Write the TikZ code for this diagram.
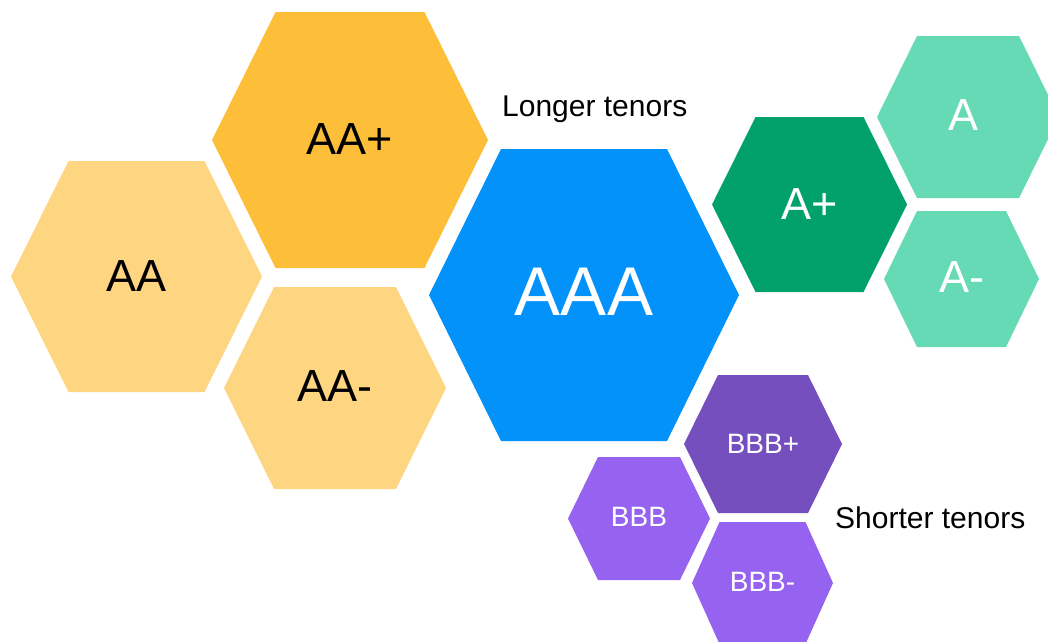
\documentclass[tikz,border=0pt]{standalone}
\usepackage{fontspec}
\setmainfont{Liberation Sans}
\definecolor{cAAp}{RGB}{253,190,58}
\definecolor{cAA}{RGB}{254,213,128}
\definecolor{cAAA}{RGB}{2,146,250}
\definecolor{cAp}{RGB}{2,161,107}
\definecolor{cA}{RGB}{102,217,181}
\definecolor{cBBBp}{RGB}{118,79,190}
\definecolor{cBBB}{RGB}{150,98,240}
% \hexa{colour}{cx}{cy}{half width}{half top edge}{half height}
\newcommand\hexa[6]{%
  \fill[#1] ({#2-#4},#3) -- ({#2-#5},{#3-#6}) -- ({#2+#5},{#3-#6}) --
    ({#2+#4},#3) -- ({#2+#5},{#3+#6}) -- ({#2-#5},{#3+#6}) -- cycle;}
\begin{document}
\begin{tikzpicture}[x=1pt,y=-1pt,
  lbl/.style={inner sep=0pt,anchor=center},
  big/.style={lbl,font=\fontsize{69}{69}\selectfont,text=white},
  mid/.style={lbl,font=\fontsize{45}{45}\selectfont},
  small/.style={lbl,font=\fontsize{28}{28}\selectfont,text=white},
  note/.style={inner sep=0pt,anchor=base west,font=\fontsize{30}{30}\selectfont}]
\useasboundingbox (0,0) rectangle (1048,641);
\clip (0,0) rectangle (1048,641);
\hexa{cAAp}{350}{140}{138}{74.5}{128}
\hexa{cAA}{136.5}{276.5}{125.5}{68}{115.5}
\hexa{cAA}{335}{388}{111}{61}{101}
\hexa{cAAA}{584}{295}{155}{83}{146}
\hexa{cAp}{809.5}{204.5}{97.5}{54}{87.5}
\hexa{cA}{968}{117}{91}{51}{81}
\hexa{cA}{961.5}{279}{77.5}{44.5}{68}
\hexa{cBBBp}{763}{444}{79}{45}{69}
\hexa{cBBB}{639}{518.5}{71}{41}{61.5}
\hexa{cBBB}{762.5}{583}{70.5}{43}{61}
\node[mid] (aap) at (350,139) {AA+};
\node[mid] (aa) at (136.5,276) {AA};
\node[mid] (aam) at (335,386) {AA-};
\node[big] (aaa) at (584,292) {AAA};
\node[mid,text=white] (ap) at (809.5,204) {A+};
\node[mid,text=white] (a) at (963,115) {A};
\node[mid,text=white] (am) at (961.5,277) {A-};
\node[small] (bbbp) at (763,444) {BBB+};
\node[small] (bbb) at (639,517) {BBB};
\node[small] (bbbm) at (762.5,582) {BBB-};
\node[note] (longer) at (502,116) {Longer tenors};
\node[note] (shorter) at (835,528) {Shorter tenors};
\end{tikzpicture}
\end{document}
